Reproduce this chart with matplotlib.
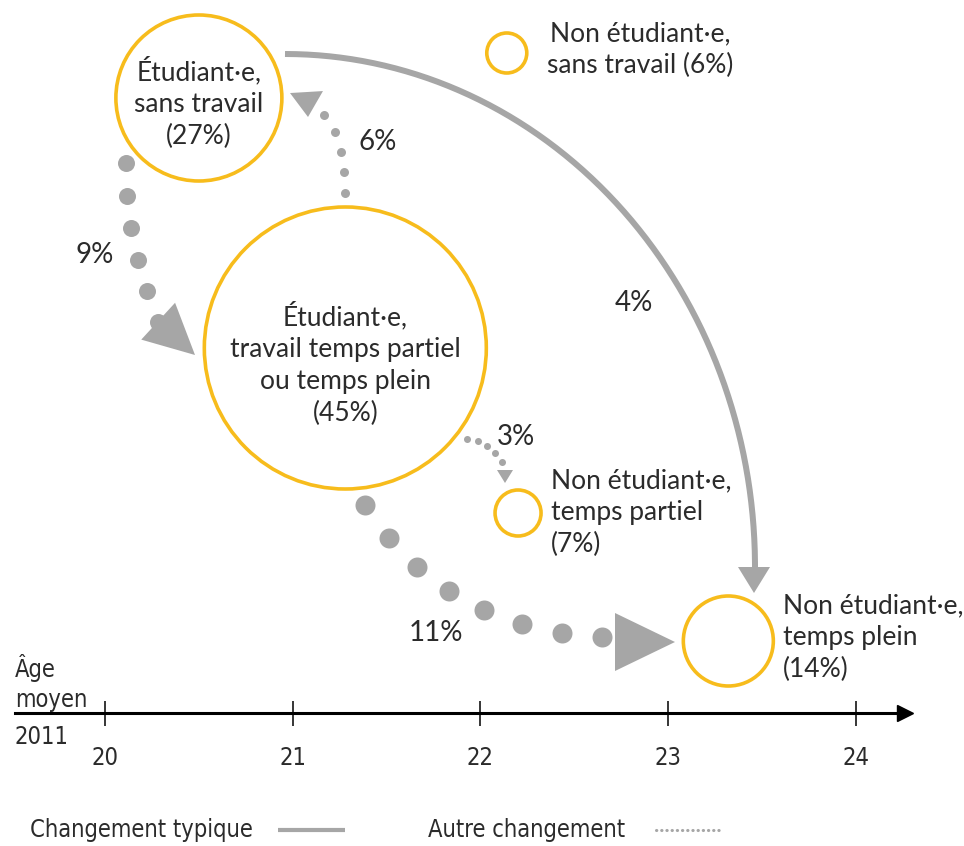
import matplotlib

matplotlib.use("Agg")
import matplotlib.pyplot as plt
import numpy as np
from matplotlib.patches import Ellipse, Polygon

# --- data -------------------------------------------------------------
statuses = [
    "Étudiant·e,\nsans travail",
    "Étudiant·e,\ntravail temps partiel\nou temps plein",
    "Non étudiant·e,\nsans travail",
    "Non étudiant·e,\ntemps partiel",
    "Non étudiant·e,\ntemps plein",
]
shares = [27, 45, 6, 7, 14]
mean_age = [20.5, 21.28, 22.14, 22.2, 23.32]

flow_from = [0, 1, 0, 1, 1]
flow_to = [1, 0, 4, 3, 4]
flow_pct = [9, 6, 4, 3, 11]
flow_typical = [False, False, True, False, False]

age_ticks = [20, 21, 22, 23, 24]

# --- layout (pixels) --------------------------------------------------
W, H = 964, 846
PX = 187.75                      # pixels per year of age
X0 = 20 - 105 / PX               # age at left edge of figure
AXIS_Y = 713

GOLD = "#F7BC1C"
GREY = "#A6A6A6"
INK = "#2B2B2B"
MAIN = dict(family=["Lato", "DejaVu Sans"])
NARROW_FONT = ["Liberation Sans Narrow", "DejaVu Sans"]
NARROW = dict(family=NARROW_FONT, fontstretch="condensed")

circle_y = [98, 348, 53, 513, 641]
circle_r = [83, 141, 20, 23, 45]
share_sep = ["\n", "\n", " ", "\n", "\n"]
# label anchor: (x px or None = circle centre, y px, ha)
label_pos = [(None, 103, "center"), (None, 364, "center"),
             (640, 50, "center"), (551, 513, "left"), (783, 638, "left")]

# dotted flows: start, control, end of the dot path, dot radius,
# number of dots, head tip, head direction, head length, head width
dotted = {
    9: dict(p=[(126, 163), (126, 246), (158, 322)], r=8.5, n=6,
            tip=(195, 355), d=(36.5, 33.5), hl=50, hw=50),
    6: dict(p=[(345, 193), (346, 140), (324, 115)], r=4.5, n=5,
            tip=(308, 117), d=(1.5, 25), hl=25, hw=33),
    3: dict(p=[(467, 439), (489, 441), (502, 462)], r=3.5, n=5,
            tip=(505, 483), d=(0, 1), hl=13, hw=16),
    11: dict(p=[(365, 505), (444, 629), (602, 637)], r=10, n=8,
             tip=(675, 642), d=(1, 0), hl=60, hw=58),
}
solid = {4: dict(c=(285, 567), a=470, b=513, tip=(754, 593), d=(0, 1),
                 hl=26, hw=32, lw=6)}
pct_pos = {9: (95, 255), 6: (378, 142), 4: (634, 303), 3: (516, 437),
           11: (436, 633)}


def ax_x(px):
    return X0 + px / PX


def bezier(p, t):
    (x0, y0), (x1, y1), (x2, y2) = p
    u = 1 - t
    return (u * u * x0 + 2 * u * t * x1 + t * t * x2,
            u * u * y0 + 2 * u * t * y1 + t * t * y2)


def head(ax, tip, d, hl, hw):
    d = np.array(d, float)
    d /= np.hypot(*d)
    n = np.array([-d[1], d[0]])
    tip = np.array(tip, float)
    base = tip - d * hl
    pts = [tip, base + n * hw / 2, base - n * hw / 2]
    ax.add_patch(Polygon([(ax_x(x), y) for x, y in pts], closed=True,
                         fc=GREY, ec="none", zorder=3))


fig = plt.figure(figsize=(W / 100, H / 100), dpi=100)
ax = fig.add_axes([0, 0, 1, 1])
ax.set_xlim(X0, X0 + W / PX)
ax.set_ylim(H, 0)
for s in ["top", "right", "left"]:
    ax.spines[s].set_visible(False)

# age axis
sp = ax.spines["bottom"]
sp.set_position(("data", AXIS_Y))
sp.set_bounds(ax_x(15), ax_x(896))
sp.set_linewidth(2.2)
sp.set_color("black")
ax.plot([ax_x(905)], [AXIS_Y], marker=">", ms=11, color="black",
        clip_on=False, zorder=4)
ax.set_yticks([])
ax.set_xticks(age_ticks)
ax.tick_params(axis="x", direction="inout", length=18, width=1.1,
               pad=15, labelsize=17, labelcolor=INK)
for lab in ax.get_xticklabels():
    lab.set_family(NARROW_FONT)
    lab.set_fontstretch("condensed")
for txt, y in zip(["Âge", "moyen", "2011"], [668, 700, 737]):
    ax.text(ax_x(15), y, txt, ha="left", va="center", fontsize=17,
            color=INK, **NARROW)

# status circles
for i, lab in enumerate(statuses):
    r = circle_r[i]
    ax.add_patch(Ellipse((mean_age[i], circle_y[i]), 2 * r / PX, 2 * r,
                         fill=False, ec=GOLD, lw=2.6, zorder=2))
    lx, ly, ha = label_pos[i]
    x = mean_age[i] if lx is None else ax_x(lx)
    ax.text(x, ly, f"{lab}{share_sep[i]}({shares[i]}%)", ha=ha,
            va="center", multialignment="center" if ha == "center" else "left",
            fontsize=19, color=INK, linespacing=1.34, **MAIN)

# flows
for pct, typ in zip(flow_pct, flow_typical):
    if typ:
        f = solid[pct]
        th = np.linspace(0, np.pi / 2, 200)
        xs = f["c"][0] + f["a"] * np.sin(th)
        ys = f["c"][1] - f["b"] * np.cos(th)
        ax.plot(ax_x(xs), ys, color=GREY, lw=f["lw"] * 0.72,
                solid_capstyle="butt", zorder=3)
    else:
        f = dotted[pct]
        t = np.linspace(0, 1, 400)
        bx, by = bezier(f["p"], t)
        seg = np.hypot(np.diff(bx), np.diff(by))
        s = np.concatenate([[0], np.cumsum(seg)])
        targets = np.linspace(0, s[-1], f["n"])
        dx = np.interp(targets, s, bx)
        dy = np.interp(targets, s, by)
        ax.scatter(ax_x(dx), dy, s=(2 * f["r"] * 0.72) ** 2, color=GREY,
                   lw=0, zorder=3)
    head(ax, f["tip"], f["d"], f["hl"], f["hw"])
    px, py = pct_pos[pct]
    ax.text(ax_x(px), py, f"{pct}%", ha="center", va="center",
            fontsize=20, color=INK, **MAIN)

# legend
ax.text(ax_x(30), 830, "Changement typique", ha="left", va="center",
        fontsize=17, color=INK, **NARROW)
ax.plot(ax_x(np.array([278, 345])), [830, 830], color=GREY, lw=3,
        solid_capstyle="butt")
ax.text(ax_x(428), 830, "Autre changement", ha="left", va="center",
        fontsize=17, color=INK, **NARROW)
ax.plot(ax_x(np.array([656, 720])), [830, 830], color=GREY, lw=2.2,
        ls=(0, (0.1, 1.6)), dash_capstyle="round")

fig.savefig("out.png", dpi=100)
